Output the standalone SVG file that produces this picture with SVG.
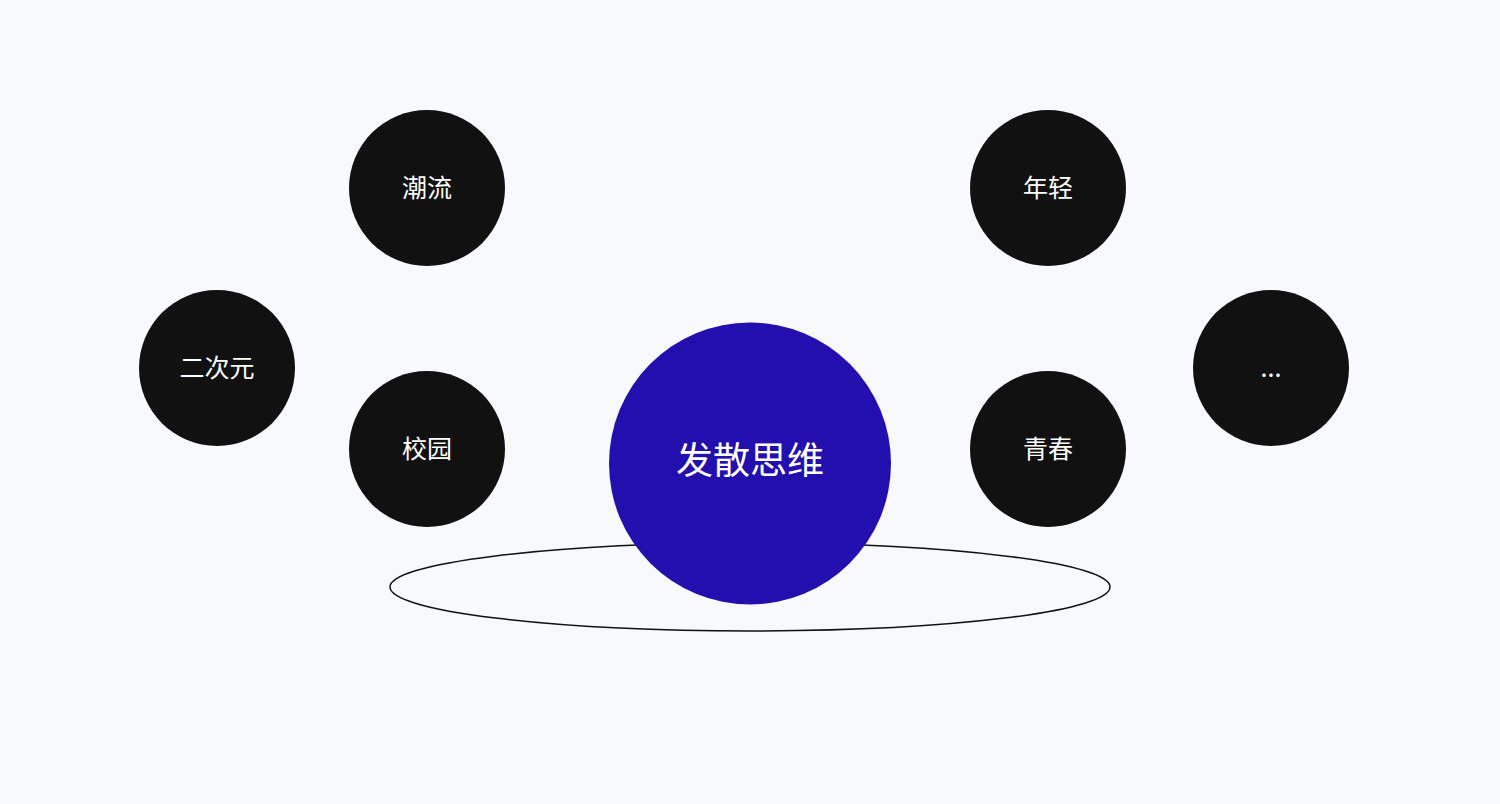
<svg xmlns="http://www.w3.org/2000/svg" width="1500" height="804" viewBox="0 0 1500 804">
<style>
.bg{fill:#f8f9fd}
.node circle{fill:#111111}
.lbl{font-family:"Noto Sans CJK SC","Noto Sans",sans-serif;fill:#ffffff;text-anchor:middle;font-size:25px}
.big{font-size:37px}
</style>
<rect class="bg" x="0" y="0" width="1500" height="804"/>
<g id="connectors">
<ellipse cx="750" cy="587" rx="360" ry="44" fill="none" stroke="#111111" stroke-width="1.5"/>
</g>
<g id="node-center">
<circle cx="750" cy="463.5" r="141" fill="#230fae"/>
<text class="lbl big" x="750" y="474">发散思维</text>
</g>
<g id="node-chaoliu" class="node">
<circle cx="427" cy="188" r="78"/>
<text class="lbl" x="427" y="197">潮流</text>
</g>
<g id="node-nianqing" class="node">
<circle cx="1048" cy="188" r="78"/>
<text class="lbl" x="1048" y="197">年轻</text>
</g>
<g id="node-erciyuan" class="node">
<circle cx="217" cy="368" r="78"/>
<text class="lbl" x="217" y="377">二次元</text>
</g>
<g id="node-xiaoyuan" class="node">
<circle cx="427" cy="449" r="78"/>
<text class="lbl" x="427" y="458">校园</text>
</g>
<g id="node-qingchun" class="node">
<circle cx="1048" cy="449" r="78"/>
<text class="lbl" x="1048" y="458">青春</text>
</g>
<g id="node-more" class="node">
<circle cx="1271" cy="368" r="78"/>
<text class="lbl" x="1271" y="377">...</text>
</g>
</svg>
